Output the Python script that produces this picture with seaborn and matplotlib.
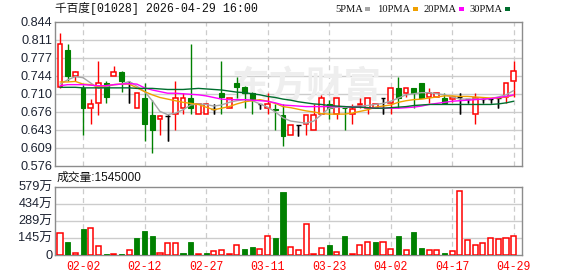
import numpy as np
import pandas as pd
import matplotlib
matplotlib.use("Agg")
import matplotlib.pyplot as plt
from matplotlib.patches import Rectangle
import seaborn as sns

# ---------------- data ----------------
title = "千百度[01028] 2026-04-29 16:00"
vol_header = "成交量:1545000"
date_labels = ["02-02", "02-12", "02-27", "03-11", "03-23", "04-02", "04-17", "04-29"]
date_pos = [3, 11, 19, 27, 35, 43, 51, 59]
price_tick_labels = ["0.576", "0.609", "0.643", "0.676", "0.710", "0.744", "0.777", "0.811", "0.844"]
vol_tick_labels = ["0", "145万", "289万", "434万", "579万"]
vol_max = 5790000

opens = [0.722, 0.792, 0.743, 0.720, 0.683, 0.692, 0.731, 0.743, 0.751, 0.731,
         0.683, 0.702, 0.671, 0.663, 0.669, 0.672, 0.683, 0.702, 0.672, 0.672,
         0.681, 0.711, 0.683, 0.731, 0.722, 0.712, 0.690, 0.683, 0.681, 0.670,
         0.633, 0.651, 0.653, 0.643, 0.672, 0.690, 0.672, 0.684, 0.672, 0.689,
         0.684, 0.684, 0.702, 0.692, 0.720, 0.712, 0.720, 0.731, 0.704, 0.704,
         0.702, 0.700, 0.704, 0.700, 0.672, 0.700, 0.700, 0.702, 0.703, 0.733]
highs = [0.824, 0.803, 0.752, 0.727, 0.701, 0.771, 0.733, 0.762, 0.753, 0.733,
         0.711, 0.731, 0.699, 0.671, 0.671, 0.733, 0.711, 0.803, 0.690, 0.690,
         0.690, 0.771, 0.702, 0.741, 0.724, 0.714, 0.691, 0.712, 0.690, 0.690,
         0.651, 0.651, 0.670, 0.690, 0.708, 0.698, 0.702, 0.684, 0.690, 0.702,
         0.702, 0.691, 0.702, 0.720, 0.741, 0.720, 0.720, 0.731, 0.720, 0.711,
         0.711, 0.704, 0.711, 0.700, 0.711, 0.702, 0.700, 0.702, 0.731, 0.771]
lows = [0.720, 0.733, 0.733, 0.633, 0.653, 0.671, 0.692, 0.743, 0.714, 0.692,
        0.683, 0.621, 0.600, 0.633, 0.621, 0.643, 0.672, 0.672, 0.672, 0.672,
        0.672, 0.672, 0.683, 0.702, 0.683, 0.672, 0.681, 0.672, 0.643, 0.612,
        0.633, 0.632, 0.633, 0.643, 0.672, 0.663, 0.663, 0.643, 0.653, 0.683,
        0.672, 0.684, 0.672, 0.672, 0.683, 0.703, 0.683, 0.702, 0.692, 0.704,
        0.692, 0.694, 0.672, 0.692, 0.653, 0.692, 0.692, 0.683, 0.692, 0.703]
closes = [0.803, 0.743, 0.751, 0.683, 0.690, 0.731, 0.703, 0.751, 0.733, 0.731,
          0.711, 0.653, 0.643, 0.669, 0.669, 0.702, 0.702, 0.683, 0.690, 0.690,
          0.681, 0.703, 0.702, 0.722, 0.712, 0.699, 0.690, 0.690, 0.680, 0.632,
          0.651, 0.651, 0.670, 0.670, 0.702, 0.684, 0.702, 0.683, 0.681, 0.691,
          0.702, 0.691, 0.702, 0.720, 0.702, 0.720, 0.712, 0.702, 0.711, 0.711,
          0.692, 0.704, 0.704, 0.700, 0.702, 0.700, 0.700, 0.702, 0.731, 0.753]

ma5 = [0.728, 0.736, 0.742, 0.740, 0.730, 0.720, 0.723, 0.727, 0.728, 0.733,
       0.724, 0.714, 0.697, 0.677, 0.671, 0.674, 0.680, 0.689, 0.691, 0.690,
       0.687, 0.689, 0.694, 0.697, 0.699, 0.697, 0.691, 0.685, 0.676, 0.665,
       0.659, 0.657, 0.655, 0.659, 0.671, 0.683, 0.685, 0.686, 0.686, 0.687,
       0.688, 0.690, 0.692, 0.696, 0.702, 0.708, 0.710, 0.712, 0.712, 0.710,
       0.708, 0.704, 0.700, 0.700, 0.700, 0.700, 0.701, 0.704, 0.708, 0.716]
ma10 = [0.732, 0.732, 0.733, 0.728, 0.727, 0.723, 0.725, 0.727, 0.728, 0.728,
        0.721, 0.714, 0.708, 0.703, 0.700, 0.697, 0.694, 0.692, 0.690, 0.685,
        0.680, 0.683, 0.686, 0.691, 0.695, 0.697, 0.699, 0.696, 0.692, 0.686,
        0.684, 0.681, 0.678, 0.676, 0.673, 0.672, 0.672, 0.672, 0.674, 0.677,
        0.680, 0.685, 0.687, 0.689, 0.694, 0.697, 0.699, 0.700, 0.702, 0.704,
        0.706, 0.706, 0.705, 0.705, 0.704, 0.703, 0.702, 0.702, 0.704, 0.707]
ma20 = [0.725, 0.727, 0.727, 0.727, 0.726, 0.725, 0.725, 0.727, 0.728, 0.729,
        0.728, 0.721, 0.717, 0.714, 0.711, 0.711, 0.710, 0.709, 0.708, 0.706,
        0.703, 0.700, 0.699, 0.699, 0.699, 0.698, 0.697, 0.696, 0.693, 0.689,
        0.688, 0.687, 0.686, 0.686, 0.686, 0.686, 0.686, 0.686, 0.685, 0.685,
        0.684, 0.683, 0.683, 0.683, 0.683, 0.684, 0.685, 0.687, 0.690, 0.692,
        0.694, 0.696, 0.697, 0.698, 0.699, 0.700, 0.701, 0.703, 0.705, 0.708]
ma30 = [0.722, 0.722, 0.722, 0.721, 0.721, 0.721, 0.721, 0.721, 0.721, 0.721,
        0.720, 0.720, 0.720, 0.719, 0.718, 0.718, 0.718, 0.719, 0.720, 0.719,
        0.718, 0.717, 0.715, 0.713, 0.712, 0.710, 0.708, 0.705, 0.703, 0.700,
        0.698, 0.695, 0.693, 0.691, 0.690, 0.688, 0.687, 0.686, 0.685, 0.685,
        0.684, 0.683, 0.683, 0.684, 0.685, 0.686, 0.688, 0.689, 0.690, 0.690,
        0.690, 0.690, 0.690, 0.690, 0.690, 0.690, 0.690, 0.691, 0.693, 0.696]

volumes_wan = [184.5, 108, 17, 221, 227, 71, 8.5, 5.7, 8.5, 37,
               145, 204, 162, 17, 99, 94, 17, 105, 8.5, 17,
               31, 40, 8.5, 82, 43, 68, 48, 159, 145, 531,
               65, 40, 261, 8.5, 57, 77, 20, 162, 8.5, 82,
               108, 108, 108, 48, 162, 40, 196, 57, 40, 40,
               17, 31, 542, 125, 82, 99, 142, 133, 142, 154.5]
vol_dir = list("rgrgrrgrgr" "gggrrrggrg" "rrrrggrrgg"
               "rrrrrgrgrr" "rgrrgrggrr" "grrrrrrrrr")

# ---------------- style ----------------
sns.set_theme(style="white")
plt.rcParams["font.family"] = ["Liberation Sans", "Noto Sans CJK SC"]

RED = "#ff0000"
GREEN = "#008000"
GRID = "#cccccc"
AX = "#8c8c8c"
MA_COLORS = {"5PMA": "#a6a6a6", "10PMA": "#f0a000", "20PMA": "#ff00ff", "30PMA": "#006e2e"}

W, H = 578, 276
fig = plt.figure(figsize=(W / 100, H / 100), dpi=100)
fig.patch.set_facecolor("white")

def fx(px):
    return px / W

def fy(py):
    return 1 - py / H

L, R = 55, 522
P_TOP, P_BOT = 22, 165.5
V_TOP, V_BOT = 186.7, 254.5
ax = fig.add_axes([fx(L), fy(P_BOT), fx(R - L), (P_BOT - P_TOP) / H])
axv = fig.add_axes([fx(L), fy(V_BOT), fx(R - L), (V_BOT - V_TOP) / H])

n = len(closes)
idx = np.arange(n)
df = pd.DataFrame({"i": idx, "open": opens, "high": highs, "low": lows, "close": closes,
                   "5PMA": ma5, "10PMA": ma10, "20PMA": ma20, "30PMA": ma30,
                   "vol": np.array(volumes_wan) * 1e4, "vdir": vol_dir})

pmin, pmax = 0.576, 0.844
xmin, xmax = -0.65, 60.08

for a in (ax, axv):
    a.set_facecolor("white")
    a.set_xlim(xmin, xmax)
    for s in ("left", "right", "top", "bottom"):
        a.spines[s].set_visible(True)
        a.spines[s].set_color(AX)
        a.spines[s].set_linewidth(1.0)
    for xp in date_pos:
        a.axvline(xp, color=GRID, lw=0.9, ls=(0, (4, 3)), zorder=0)

# price grid
ax.set_ylim(pmin, pmax)
pt = np.linspace(pmin, pmax, len(price_tick_labels))
ax.set_yticks(pt)
ax.set_yticklabels(price_tick_labels)
for y in pt[1:-1]:
    ax.axhline(y, color=GRID, lw=1.0, zorder=0)
ax.set_xticks([])
ax.tick_params(axis="y", length=0, pad=2, labelsize=9.2, labelcolor="#1e2433")

# candles
bw = 0.62
for r in df.itertuples():
    if r.close > r.open:
        col = RED
    elif r.close < r.open:
        col = GREEN
    else:
        col = "#000000"
    top, bot = max(r.open, r.close), min(r.open, r.close)
    if r.high > top:
        ax.vlines(r.i, top, r.high, color=col, lw=1.0, zorder=3)
    if r.low < bot:
        ax.vlines(r.i, r.low, bot, color=col, lw=1.0, zorder=3)
    if col == "#000000":
        ax.hlines(r.open, r.i - bw / 2, r.i + bw / 2, color=col, lw=1.0, zorder=4)
        ax.vlines(r.i, r.low, r.high, color=col, lw=1.0, zorder=3)
    elif col == RED:
        ax.bar(r.i, top - bot, bottom=bot, width=bw, facecolor="white", edgecolor=RED, lw=1.1, zorder=4)
    else:
        ax.bar(r.i, top - bot, bottom=bot, width=bw, facecolor=GREEN, edgecolor=GREEN, lw=0.8, zorder=4)

# moving averages
long = df.melt(id_vars="i", value_vars=list(MA_COLORS), var_name="ma", value_name="v")
sns.lineplot(data=long, x="i", y="v", hue="ma", palette=MA_COLORS, ax=ax, lw=1.0,
             legend=False, zorder=5, estimator=None)
ax.set_xlabel("")
ax.set_ylabel("")

# watermark
ax.text(0.54, 0.55, "东方财富", transform=ax.transAxes, ha="center", va="center",
        fontsize=27, color="#eeeeee", fontweight="bold", zorder=1,
        family=["Noto Sans CJK SC"])

# volume
axv.set_ylim(0, vol_max)
vt = np.linspace(0, vol_max, len(vol_tick_labels))
axv.set_yticks(vt)
axv.set_yticklabels(vol_tick_labels)
for y in vt[1:-1]:
    axv.axhline(y, color=GRID, lw=1.0, zorder=0)
for r in df.itertuples():
    if r.vdir == "r":
        axv.bar(r.i, r.vol, width=0.66, facecolor="white", edgecolor=RED, lw=1.1, zorder=3)
    else:
        axv.bar(r.i, r.vol, width=0.66, facecolor=GREEN, edgecolor=GREEN, lw=0.6, zorder=3)
axv.set_xticks(date_pos)
axv.set_xticklabels(date_labels, family=["Liberation Mono"], fontsize=8.3, color=RED)
axv.tick_params(axis="x", length=0, pad=4.5)
axv.tick_params(axis="y", length=0, pad=2, labelsize=9.2, labelcolor="#1e2433")
axv.set_xlabel("")
axv.set_ylabel("")

# header texts
fig.text(fx(55), fy(8.5), title, ha="left", va="center", fontsize=8.4,
         family=["Liberation Mono", "Noto Sans CJK SC"], color="#111111")
fig.text(fx(57), fy(177.3), vol_header, ha="left", va="center", fontsize=8.5,
         family=["Liberation Sans", "Noto Sans CJK SC"], color="#111111")

# legend
leg_items = [("5PMA", 363, 365), ("10PMA", 410, 413), ("20PMA", 457, 459), ("30PMA", 503, 505)]
for name, tx, sx in leg_items:
    fig.text(fx(tx), fy(9), name, ha="right", va="center", fontsize=7.6,
             family=["Liberation Serif"], color="#111111")
    fig.patches.append(Rectangle((fx(sx), fy(10.5)), fx(5), 3 / H, transform=fig.transFigure,
                                 facecolor=MA_COLORS[name], edgecolor="none"))

fig.savefig("out.png", dpi=100, facecolor="white")
